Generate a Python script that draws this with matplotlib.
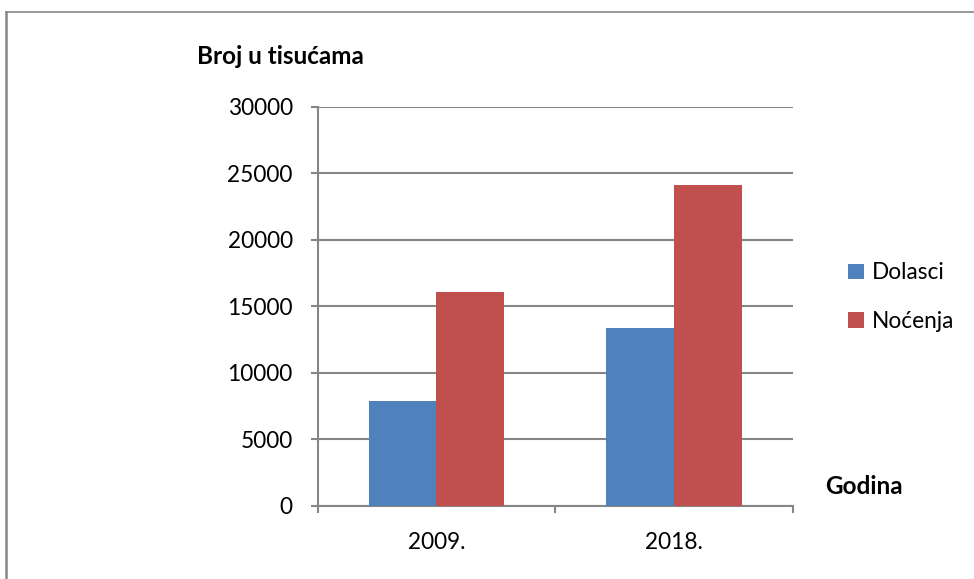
import matplotlib
matplotlib.use("Agg")
import matplotlib.pyplot as plt
from matplotlib.lines import Line2D
import numpy as np

categories = ["2009.", "2018."]
dolasci = [7900, 13350]
nocenja = [16100, 24100]
series_names = ["Dolasci", "Noćenja"]
yticks = [0, 5000, 10000, 15000, 20000, 25000, 30000]

plt.rcParams['font.family'] = ['Lato', 'DejaVu Sans']

W, H = 974, 579
fig = plt.figure(figsize=(W / 100, H / 100), dpi=100)
ax = fig.add_axes([317.7 / W, (H - 506) / H, 475 / W, 399.3 / H])

gray = '#868686'
blue = '#4F81BD'
red = '#C0504D'

x = np.arange(len(categories))
bw = 0.285
b1 = ax.bar(x - bw / 2, dolasci, bw, color=blue, label=series_names[0], zorder=3)
b2 = ax.bar(x + bw / 2, nocenja, bw, color=red, label=series_names[1], zorder=3)

ax.set_xlim(-0.5, 1.5)
ax.set_ylim(0, 30000)
ax.set_yticks(yticks)
ax.set_yticklabels([str(v) for v in yticks], fontsize=16.3)
ax.yaxis.grid(True, color=gray, linewidth=1.5, zorder=0)
ax.set_axisbelow(True)

ax.set_xticks(x)
ax.set_xticklabels(categories, fontsize=16.3)
ax.set_xticks([-0.5, 0.5, 1.5], minor=True)
ax.tick_params(axis='x', which='major', length=0, pad=19)
ax.tick_params(axis='x', which='minor', length=5, width=1.5, color=gray, direction='out')
ax.tick_params(axis='y', length=5, width=1.5, color=gray, direction='out', pad=13)

for s in ['top', 'right']:
    ax.spines[s].set_visible(False)
for s in ['left', 'bottom']:
    ax.spines[s].set_color(gray)
    ax.spines[s].set_linewidth(1.5)

fig.text(197 / W, 1 - 57 / H, "Broj u tisućama", fontsize=17.5, fontweight='bold',
         ha='left', va='center')
fig.text(825 / W, 1 - 486 / H, "Godina", fontsize=17.5, fontweight='bold',
         ha='left', va='center')

leg = fig.legend(handles=[b1, b2], labels=series_names, loc='center left',
                 bbox_to_anchor=(848 / W, 1 - 297 / H), frameon=False, borderpad=0,
                 borderaxespad=0,
                 fontsize=16.3, handlelength=0.7, handleheight=0.7,
                 handletextpad=0.35, labelspacing=1.2)

# outer border (top and left)
fig.add_artist(Line2D([5.5 / W, 1.0], [1 - 11.5 / H, 1 - 11.5 / H], color=gray,
                      linewidth=1.2, transform=fig.transFigure))
fig.add_artist(Line2D([5.5 / W, 5.5 / W], [0, 1 - 11.5 / H], color=gray,
                      linewidth=1.8, transform=fig.transFigure))

fig.savefig("out.png", dpi=100)
